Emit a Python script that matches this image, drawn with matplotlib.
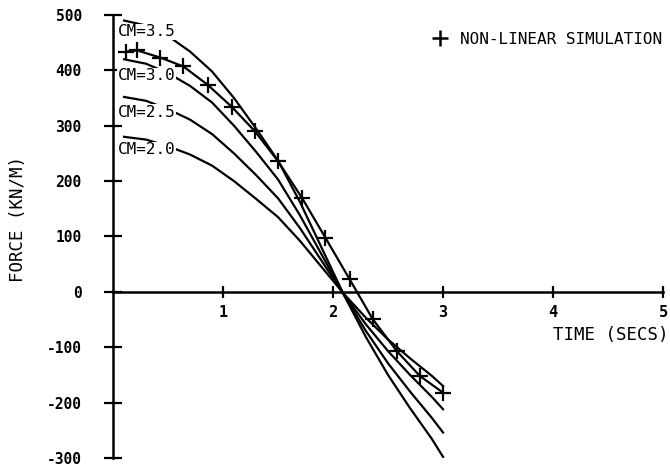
import matplotlib
matplotlib.use("Agg")
import matplotlib.pyplot as plt
from matplotlib.lines import Line2D

# 读图估计的数据
t = [0.1, 0.3, 0.5, 0.7, 0.9, 1.1, 1.3, 1.5, 1.7, 1.9, 2.1, 2.3, 2.5, 2.7, 2.9, 3.0]
cm35 = [490, 481, 462, 434, 398, 350, 295, 237, 162, 78, -6, -82, -150, -210, -266, -298]
cm30 = [420, 412, 395, 372, 342, 300, 253, 203, 138, 66, -6, -71, -129, -180, -228, -254]
cm25 = [352, 345, 330, 311, 285, 250, 211, 169, 115, 55, -5, -59, -107, -150, -190, -212]
cm20 = [280, 275, 263, 248, 228, 200, 168, 135, 92, 44, -4, -47, -86, -120, -152, -170]

sim_t = [0.12, 0.22, 0.43, 0.64, 0.86, 1.08, 1.29, 1.5, 1.72, 1.93, 2.15, 2.36, 2.58, 2.79, 3.0]
sim_f = [434, 436, 423, 407, 374, 334, 290, 236, 169, 98, 23, -49, -107, -152, -182]

curve_labels = ["CM=3.5", "CM=3.0", "CM=2.5", "CM=2.0"]
label_y = [470, 390, 324, 257]

xticks = [1, 2, 3, 4, 5]
yticks = [-300, -200, -100, 0, 100, 200, 300, 400, 500]

font = "DejaVu Sans Mono"

fig = plt.figure(figsize=(6.7, 4.67), dpi=100)
ax = fig.add_axes([0.1687, 0.0193, 0.8209, 0.9486])

for f in [cm35, cm30, cm25, cm20]:
    ax.plot(t, f, color="black", lw=1.6)
ax.plot(sim_t, sim_f, color="black", lw=1.6, marker="+", ms=11, mew=1.6)

for lab, y in zip(curve_labels, label_y):
    ax.text(0.04, y, lab, family=font, fontsize=11.5, va="center", ha="left",
            bbox=dict(facecolor="white", edgecolor="none", pad=0.3))

ax.set_xlim(0, 5)
ax.set_ylim(-300, 500)
ax.spines["top"].set_visible(False)
ax.spines["right"].set_visible(False)
ax.spines["bottom"].set_position(("data", 0))
ax.spines["left"].set_linewidth(1.8)
ax.spines["bottom"].set_linewidth(1.8)

ax.set_xticks(xticks)
ax.set_xticklabels([str(v) for v in xticks], family=font, fontweight="bold", fontsize=11)
ax.set_yticks(yticks)
ax.set_yticklabels([str(v) for v in yticks], family=font, fontweight="bold", fontsize=10.5)
ax.tick_params(axis="y", direction="inout", length=13, width=1.6, pad=16)
ax.tick_params(axis="x", direction="inout", length=9, width=1.6, pad=5)

fig.text(0.027, 0.53, "FORCE (KN/M)", rotation=90, family=font, fontsize=12.5,
         ha="center", va="center")
fig.text(0.998, 0.283, "TIME (SECS)", family=font, fontsize=12.5, ha="right", va="center")

h = Line2D([], [], color="black", marker="+", ls="none", ms=12, mew=1.8)
ax.legend([h], ["NON-LINEAR SIMULATION"], loc="upper right", bbox_to_anchor=(1.025, 0.995),
          frameon=False, handletextpad=0.5, handlelength=1.5,
          prop={"family": font, "size": 11.5})

fig.savefig("out.png", dpi=100)
